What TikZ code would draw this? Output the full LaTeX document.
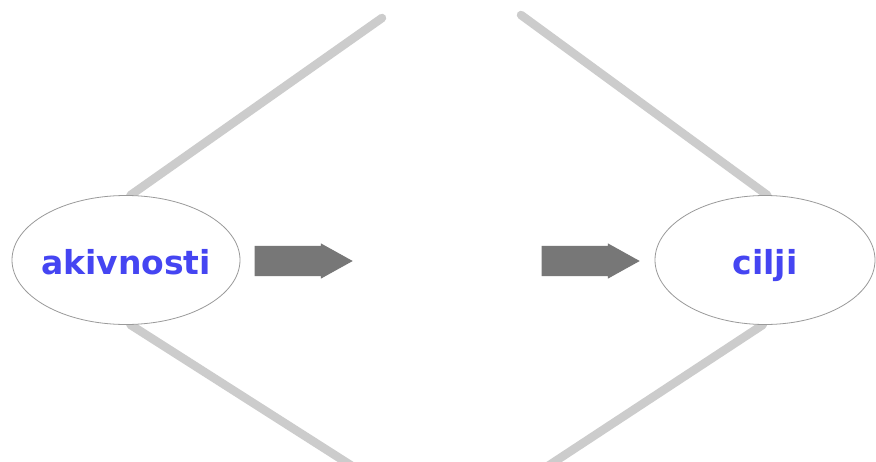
\documentclass[tikz,border=0pt]{standalone}
\usepackage{fontspec}
\usepackage{tikz}
\usetikzlibrary{shapes.geometric,shapes.arrows,positioning,backgrounds}
\newfontfamily\pisava{DejaVu Sans}
\definecolor{modra}{HTML}{4545F2}
\definecolor{sivacrta}{HTML}{CCCCCC}
\definecolor{sivarob}{HTML}{9A9A9A}
\definecolor{sivapuscica}{HTML}{777777}
\tikzset{
  elipsa/.style={ellipse,draw=sivarob,fill=white,line width=0.8pt,inner xsep=-8pt,inner ysep=0pt,text height=28pt,text depth=0pt,minimum width=228pt,minimum height=129pt,text=modra,font=\pisava\bfseries\fontsize{33}{36}\selectfont},
  crta/.style={draw=sivacrta,line width=8.5pt,line cap=round},
  puscica/.style={single arrow,fill=sivapuscica,draw=none,minimum height=98pt,inner xsep=0pt,inner ysep=15pt,single arrow head extend=2.5pt,single arrow tip angle=58},
}

\begin{document}
\begin{tikzpicture}[x=1pt,y=-1pt]
  \useasboundingbox (0,0) rectangle (876,461);
  \node[elipsa] (akt) at (126,260) {akivnosti};
  \node[elipsa,minimum width=220pt] (cilj) at (765,260) {cilji};
  \node[puscica] (p1) at (290,261) {};
  \node[puscica] (p2) at (577,261) {};
  % konci sivih crt
  \coordinate (lz) at (382,18);
  \coordinate (ls) at (352,466);
  \coordinate (dz) at (521,15);
  \coordinate (ds) at (548,466);
  \begin{scope}[on background layer]
    \fill[white] (0,0) rectangle (876,461);
    \draw[crta] (lz) -- (akt.86);
    \draw[crta] (ls) -- (akt.-86);
    \draw[crta] (dz) -- (cilj.88);
    \draw[crta] (ds) -- (cilj.-92);
  \end{scope}
\end{tikzpicture}
\end{document}
